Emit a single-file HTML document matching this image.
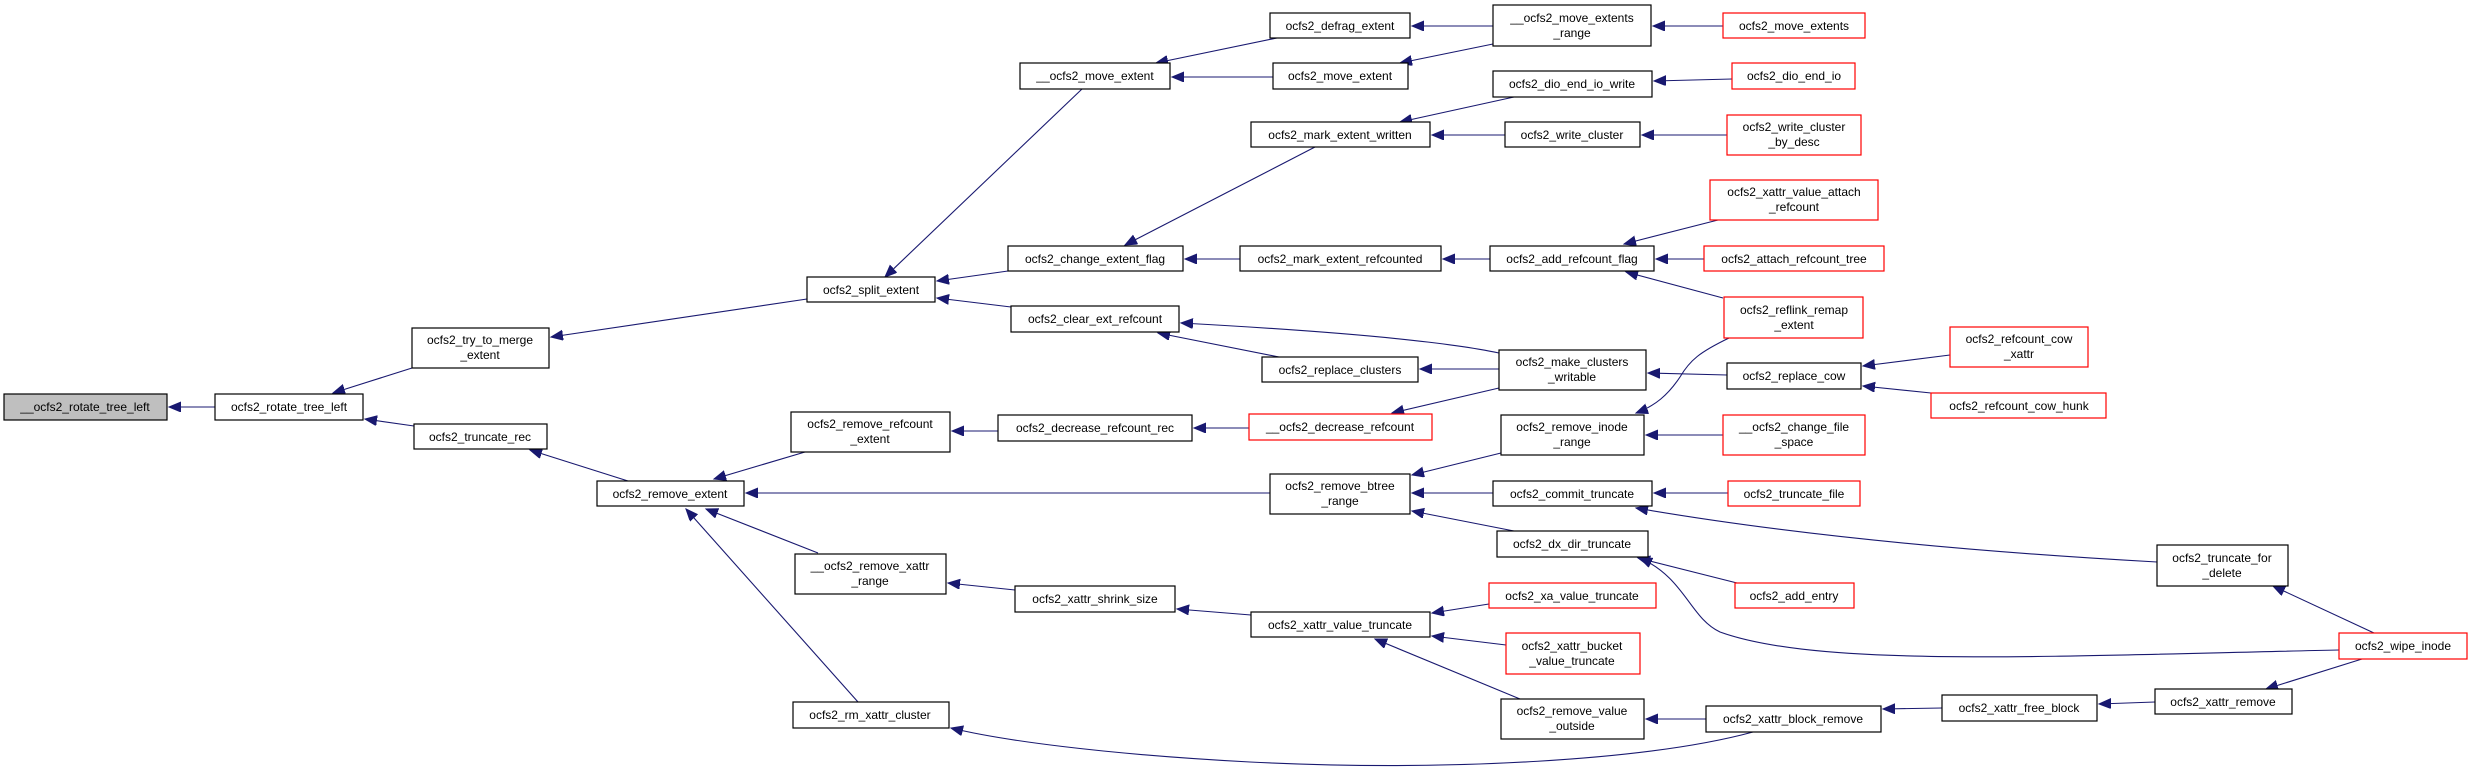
<!DOCTYPE html>
<html><head><meta charset="utf-8"><style>
html,body{margin:0;padding:0;background:#fff;}
svg{display:block;}
text{font-family:"Liberation Sans",Arial,sans-serif;font-size:12px;fill:#000;text-anchor:middle;}
.n{fill:#fff;stroke:#000;stroke-width:1.2;}
.r{fill:#fff;stroke:#ff0000;stroke-width:1.2;}
.g{fill:#bfbfbf;stroke:#000;stroke-width:1.2;}
.e{fill:none;stroke:#191970;stroke-width:1.1;marker-end:url(#a);}
</style></head><body>
<svg width="2472" height="771" viewBox="0 0 2472 771" xmlns="http://www.w3.org/2000/svg">
<defs><marker id="a" markerUnits="userSpaceOnUse" markerWidth="14" markerHeight="12" refX="12" refY="5" orient="auto"><polygon points="0,0 12,5 0,10" fill="#191970" stroke="#191970"/></marker></defs>
<!-- edges -->
<path class="e" d="M215,407 L169,407"/>
<path class="e" d="M412,368 L333,393"/>
<path class="e" d="M414,426 L365,419"/>
<path class="e" d="M807,299 L551,337"/>
<path class="e" d="M1082,89 L885,277"/>
<path class="e" d="M1008,271 L937,281"/>
<path class="e" d="M1011,307 L937,298"/>
<path class="e" d="M1277,38 L1156,63"/>
<path class="e" d="M1273,77 L1172,77"/>
<path class="e" d="M1493,26 L1412,26"/>
<path class="e" d="M1493,44 L1400,63"/>
<path class="e" d="M1723,26 L1653,26"/>
<path class="e" d="M1315,147 L1125,245"/>
<path class="e" d="M1514,97 L1400,122"/>
<path class="e" d="M1505,135 L1432,135"/>
<path class="e" d="M1732,79 L1654,81"/>
<path class="e" d="M1727,135 L1642,135"/>
<path class="e" d="M1240,259 L1185,259"/>
<path class="e" d="M1490,259 L1443,259"/>
<path class="e" d="M1718,220 L1624,244"/>
<path class="e" d="M1704,259 L1656,259"/>
<path class="e" d="M1723,298 L1626,272"/>
<path class="e" d="M1499,353 Q1420,336 1181,323"/>
<path class="e" d="M1279,357 L1158,333"/>
<path class="e" d="M1499,369 L1420,369"/>
<path class="e" d="M1499,388 L1392,413"/>
<path class="e" d="M1727,375 L1648,373"/>
<path class="e" d="M1729,338 C1700,352 1690,360 1680,377 C1668,395 1655,406 1636,413"/>
<path class="e" d="M1950,355 L1863,366"/>
<path class="e" d="M1931,393 L1863,386"/>
<path class="e" d="M1723,435 L1646,435"/>
<path class="e" d="M1501,453 L1412,475"/>
<path class="e" d="M1493,493 L1412,493"/>
<path class="e" d="M1514,531 L1412,511"/>
<path class="e" d="M1728,493 L1654,493"/>
<path class="e" d="M2157,562 Q1850,545 1636,508"/>
<path class="e" d="M1737,583 L1638,558"/>
<path class="e" d="M2339,650 C2050,656 1820,668 1720,632 C1690,618 1685,578 1640,558"/>
<path class="e" d="M2374,633 L2273,586"/>
<path class="e" d="M2362,659 L2266,689"/>
<path class="e" d="M1270,493 L746,493"/>
<path class="e" d="M805,452 L714,479"/>
<path class="e" d="M998,431 L952,431"/>
<path class="e" d="M1249,428 L1194,428"/>
<path class="e" d="M818,553 L706,509"/>
<path class="e" d="M858,702 L686,509"/>
<path class="e" d="M1015,590 L948,583"/>
<path class="e" d="M1251,615 L1177,609"/>
<path class="e" d="M1489,604 L1432,613"/>
<path class="e" d="M1506,645 L1432,636"/>
<path class="e" d="M1520,699 L1375,639"/>
<path class="e" d="M1706,719 L1646,719"/>
<path class="e" d="M1753,732 C1650,760 1450,772 1250,762 C1100,754 1000,740 951,728"/>
<path class="e" d="M1942,708 L1883,709"/>
<path class="e" d="M2155,702 L2099,704"/>
<path class="e" d="M628,481 L530,450"/>
<!-- nodes -->
<rect class="g" x="4" y="394" width="163" height="26"/><text x="85" y="411">__ocfs2_rotate_tree_left</text>
<rect class="n" x="215" y="394" width="148" height="26"/><text x="289" y="411">ocfs2_rotate_tree_left</text>
<rect class="n" x="412" y="328" width="137" height="40"/><text x="480" y="344">ocfs2_try_to_merge</text><text x="480" y="359">_extent</text>
<rect class="n" x="414" y="424" width="133" height="25"/><text x="480" y="441">ocfs2_truncate_rec</text>
<rect class="n" x="597" y="481" width="147" height="25"/><text x="670" y="498">ocfs2_remove_extent</text>
<rect class="n" x="807" y="277" width="128" height="25"/><text x="871" y="294">ocfs2_split_extent</text>
<rect class="n" x="1020" y="63" width="150" height="26"/><text x="1095" y="80">__ocfs2_move_extent</text>
<rect class="n" x="1270" y="13" width="140" height="25"/><text x="1340" y="30">ocfs2_defrag_extent</text>
<rect class="n" x="1273" y="63" width="135" height="26"/><text x="1340" y="80">ocfs2_move_extent</text>
<rect class="n" x="1493" y="5" width="158" height="41"/><text x="1572" y="22">__ocfs2_move_extents</text><text x="1572" y="37">_range</text>
<rect class="n" x="1493" y="71" width="159" height="26"/><text x="1572" y="88">ocfs2_dio_end_io_write</text>
<rect class="n" x="1251" y="122" width="179" height="25"/><text x="1340" y="139">ocfs2_mark_extent_written</text>
<rect class="n" x="1505" y="122" width="135" height="25"/><text x="1572" y="139">ocfs2_write_cluster</text>
<rect class="n" x="1008" y="246" width="175" height="25"/><text x="1095" y="263">ocfs2_change_extent_flag</text>
<rect class="n" x="1240" y="246" width="201" height="25"/><text x="1340" y="263">ocfs2_mark_extent_refcounted</text>
<rect class="n" x="1490" y="246" width="164" height="25"/><text x="1572" y="263">ocfs2_add_refcount_flag</text>
<rect class="n" x="1011" y="306" width="168" height="26"/><text x="1095" y="323">ocfs2_clear_ext_refcount</text>
<rect class="n" x="1262" y="357" width="156" height="25"/><text x="1340" y="374">ocfs2_replace_clusters</text>
<rect class="n" x="1499" y="350" width="147" height="40"/><text x="1572" y="366">ocfs2_make_clusters</text><text x="1572" y="381">_writable</text>
<rect class="n" x="791" y="412" width="159" height="40"/><text x="870" y="428">ocfs2_remove_refcount</text><text x="870" y="443">_extent</text>
<rect class="n" x="998" y="415" width="194" height="26"/><text x="1095" y="432">ocfs2_decrease_refcount_rec</text>
<rect class="r" x="1249" y="414" width="183" height="26"/><text x="1340" y="431">__ocfs2_decrease_refcount</text>
<rect class="n" x="1501" y="415" width="143" height="40"/><text x="1572" y="431">ocfs2_remove_inode</text><text x="1572" y="446">_range</text>
<rect class="n" x="1270" y="474" width="140" height="40"/><text x="1340" y="490">ocfs2_remove_btree</text><text x="1340" y="505">_range</text>
<rect class="n" x="1493" y="481" width="159" height="25"/><text x="1572" y="498">ocfs2_commit_truncate</text>
<rect class="n" x="1497" y="531" width="151" height="26"/><text x="1572" y="548">ocfs2_dx_dir_truncate</text>
<rect class="n" x="795" y="554" width="151" height="40"/><text x="870" y="570">__ocfs2_remove_xattr</text><text x="870" y="585">_range</text>
<rect class="n" x="1015" y="586" width="160" height="26"/><text x="1095" y="603">ocfs2_xattr_shrink_size</text>
<rect class="n" x="1251" y="612" width="179" height="25"/><text x="1340" y="629">ocfs2_xattr_value_truncate</text>
<rect class="r" x="1489" y="583" width="167" height="25"/><text x="1572" y="600">ocfs2_xa_value_truncate</text>
<rect class="r" x="1506" y="633" width="134" height="41"/><text x="1572" y="650">ocfs2_xattr_bucket</text><text x="1572" y="665">_value_truncate</text>
<rect class="n" x="1501" y="699" width="143" height="40"/><text x="1572" y="715">ocfs2_remove_value</text><text x="1572" y="730">_outside</text>
<rect class="n" x="793" y="702" width="156" height="26"/><text x="870" y="719">ocfs2_rm_xattr_cluster</text>
<rect class="r" x="1723" y="13" width="142" height="25"/><text x="1794" y="30">ocfs2_move_extents</text>
<rect class="r" x="1732" y="63" width="123" height="26"/><text x="1794" y="80">ocfs2_dio_end_io</text>
<rect class="r" x="1727" y="115" width="134" height="40"/><text x="1794" y="131">ocfs2_write_cluster</text><text x="1794" y="146">_by_desc</text>
<rect class="r" x="1710" y="180" width="168" height="40"/><text x="1794" y="196">ocfs2_xattr_value_attach</text><text x="1794" y="211">_refcount</text>
<rect class="r" x="1704" y="246" width="180" height="25"/><text x="1794" y="263">ocfs2_attach_refcount_tree</text>
<rect class="r" x="1724" y="297" width="139" height="41"/><text x="1794" y="314">ocfs2_reflink_remap</text><text x="1794" y="329">_extent</text>
<rect class="n" x="1727" y="363" width="134" height="26"/><text x="1794" y="380">ocfs2_replace_cow</text>
<rect class="r" x="1950" y="327" width="138" height="40"/><text x="2019" y="343">ocfs2_refcount_cow</text><text x="2019" y="358">_xattr</text>
<rect class="r" x="1931" y="393" width="175" height="25"/><text x="2019" y="410">ocfs2_refcount_cow_hunk</text>
<rect class="r" x="1723" y="415" width="142" height="40"/><text x="1794" y="431">__ocfs2_change_file</text><text x="1794" y="446">_space</text>
<rect class="r" x="1728" y="481" width="132" height="25"/><text x="1794" y="498">ocfs2_truncate_file</text>
<rect class="r" x="1735" y="583" width="119" height="25"/><text x="1794" y="600">ocfs2_add_entry</text>
<rect class="n" x="2157" y="545" width="131" height="41"/><text x="2222" y="562">ocfs2_truncate_for</text><text x="2222" y="577">_delete</text>
<rect class="r" x="2339" y="633" width="128" height="26"/><text x="2403" y="650">ocfs2_wipe_inode</text>
<rect class="n" x="1706" y="706" width="175" height="26"/><text x="1793" y="723">ocfs2_xattr_block_remove</text>
<rect class="n" x="1942" y="695" width="155" height="26"/><text x="2019" y="712">ocfs2_xattr_free_block</text>
<rect class="n" x="2155" y="689" width="137" height="25"/><text x="2223" y="706">ocfs2_xattr_remove</text>
</svg>
</body></html>
